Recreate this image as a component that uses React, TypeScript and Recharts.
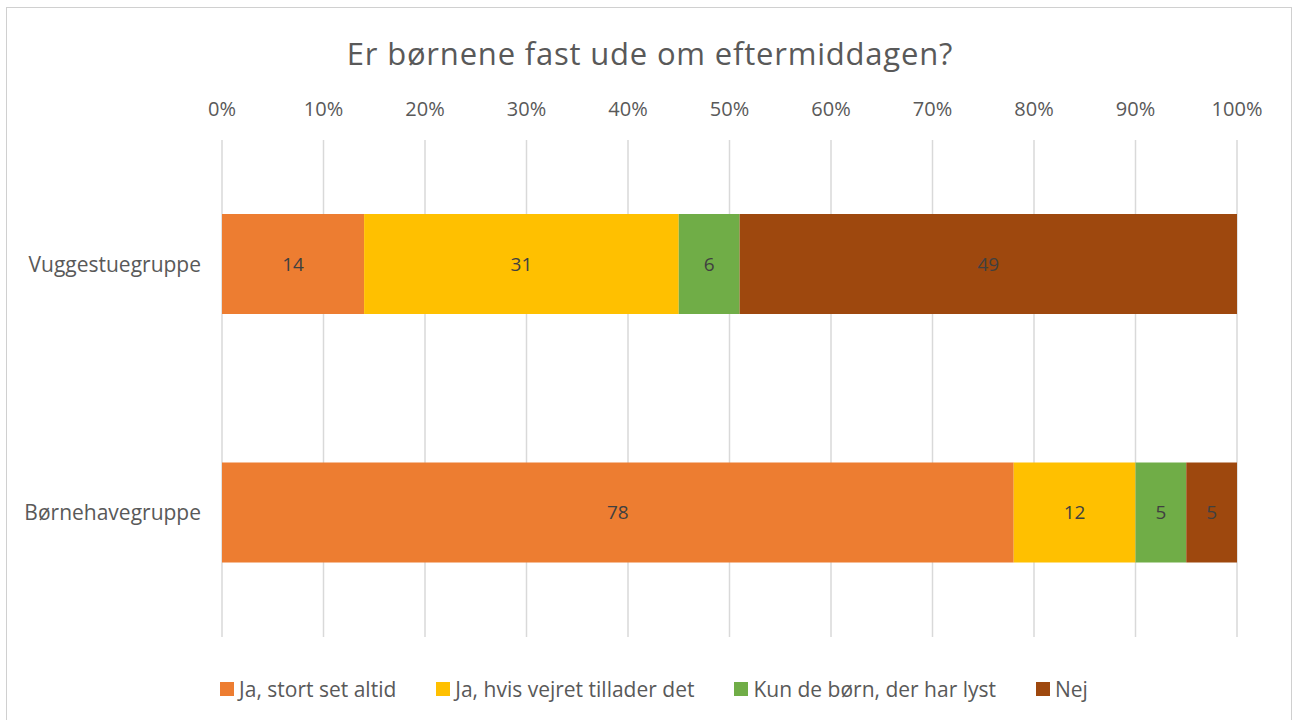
import React from "react";
import { BarChart, Bar, XAxis, YAxis, CartesianGrid, LabelList, Legend } from "recharts";

const categories = ["Vuggestuegruppe", "Børnehavegruppe"];
const seriesNames = ["Ja, stort set altid", "Ja, hvis vejret tillader det", "Kun de børn, der har lyst", "Nej"];
const jaAltid = [14, 78];
const jaVejret = [31, 12];
const kunLyst = [6, 5];
const nej = [49, 5];
const xTicks = [0, 0.1, 0.2, 0.3, 0.4, 0.5, 0.6, 0.7, 0.8, 0.9, 1];
const colors = ["#ED7D31", "#FFC000", "#70AD47", "#9E480E"];

const keys = ["s0", "s1", "s2", "s3"];
const data = categories.map((c, i) => ({
  name: c,
  s0: jaAltid[i],
  s1: jaVejret[i],
  s2: kunLyst[i],
  s3: nej[i],
}));

const FONT = "'Open Sans', sans-serif";

const LegendContent = () => (
  <div style={{ display: "flex", justifyContent: "center", alignItems: "center", gap: 40, fontFamily: FONT, fontSize: 21, color: "#595959", height: 30 }}>
    {seriesNames.map((n, i) => (
      <div key={n} style={{ display: "flex", alignItems: "center" }}>
        <div style={{ width: 14, height: 14, background: colors[i], marginRight: 5 }} />
        <span>{n}</span>
      </div>
    ))}
  </div>
);

export default function App() {
  return (
    <div style={{ position: "absolute", left: 0, top: 0, width: 1293, height: 720, background: "#fff", overflow: "hidden" }}>
      <div style={{ position: "absolute", left: 6, top: 7, width: 1284, height: 800, border: "1px solid #d0d0d0" }} />
      <div style={{ position: "absolute", left: 0, top: 32, width: 1300, textAlign: "center", fontFamily: FONT, fontSize: 31, letterSpacing: 0.8, color: "#595959", lineHeight: "normal" }}>
        Er børnene fast ude om eftermiddagen?
      </div>
      <div style={{ position: "absolute", left: 0, top: 0 }}>
        <BarChart
          width={1293}
          height={720}
          data={data}
          layout="vertical"
          stackOffset="expand"
          barSize={100}
          margin={{ top: 100, right: 56, left: 0, bottom: 53 }}
        >
          <CartesianGrid horizontal={false} stroke="#d9d9d9" strokeWidth={1.5} />
          <XAxis
            type="number"
            orientation="top"
            domain={[0, 1]}
            ticks={xTicks}
            tickFormatter={(v: number) => `${Math.round(v * 100)}%`}
            axisLine={false}
            tickLine={false}
            tickSize={0}
            tickMargin={24}
            height={40}
            tick={{ fill: "#595959", fontSize: 20, fontFamily: FONT }}
            interval={0}
          />
          <YAxis
            type="category"
            dataKey="name"
            width={222}
            axisLine={false}
            tickLine={false}
            tickSize={0}
            tickMargin={21}
            tick={{ fill: "#595959", fontSize: 21, fontFamily: FONT }}
          />
          <Legend
            verticalAlign="bottom"
            content={<LegendContent />}
            wrapperStyle={{ top: 674, bottom: "auto", left: 0, width: 1308 }}
          />
          {keys.map((k, i) => (
            <Bar key={k} dataKey={k} name={seriesNames[i]} stackId="a" fill={colors[i]} isAnimationActive={false}>
              <LabelList dataKey={k} position="center" fill="#404040" fontSize={19} fontFamily={FONT} />
            </Bar>
          ))}
        </BarChart>
      </div>
    </div>
  );
}
